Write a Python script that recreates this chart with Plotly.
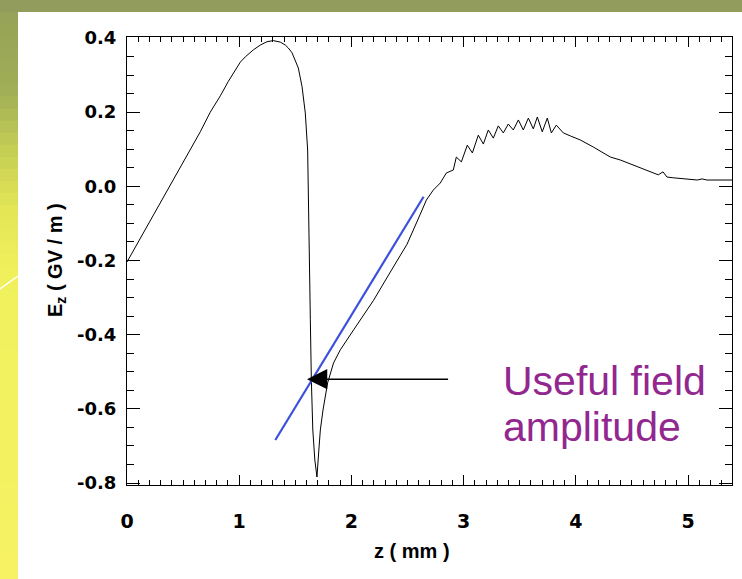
import plotly.graph_objects as go

# ---- data ----
z_mm = [0.000, 0.208, 0.430, 0.564, 0.653, 0.742, 0.832, 0.903, 0.980, 1.010,
        1.054, 1.126, 1.188, 1.248,
        1.304, 1.366, 1.411, 1.438, 1.471, 1.500, 1.527, 1.560, 1.589, 1.610,
        1.619, 1.625, 1.634, 1.643, 1.656, 1.674, 1.693, 1.708, 1.723, 1.747,
        1.788, 1.841, 1.901, 2.020, 2.198, 2.347, 2.496, 2.614, 2.668, 2.730,
        2.792, 2.846, 2.908, 2.935, 2.980, 3.033, 3.078, 3.131, 3.176, 3.220,
        3.265, 3.309, 3.354, 3.398, 3.443, 3.488, 3.532, 3.577, 3.621, 3.657,
        3.701, 3.746, 3.782, 3.826, 3.889, 3.951, 4.040, 4.156, 4.308, 4.397,
        4.486, 4.575, 4.664, 4.735, 4.777, 4.813, 4.869, 4.958, 5.083, 5.125,
        5.169, 5.392]
ez_gv_m = [-0.204, -0.091, 0.028, 0.101, 0.147, 0.200, 0.244, 0.283, 0.322, 0.335,
           0.349, 0.368, 0.381, 0.390,
           0.393, 0.389, 0.381, 0.373, 0.360, 0.341, 0.319, 0.269, 0.198, 0.098,
           -0.037, -0.172, -0.360, -0.522, -0.657, -0.738, -0.784, -0.719, -0.657, -0.603,
           -0.530, -0.476, -0.441, -0.387, -0.307, -0.231, -0.156, -0.075, -0.037, -0.010,
           0.009, 0.036, 0.044, 0.079, 0.066, 0.111, 0.090, 0.138, 0.114, 0.152,
           0.130, 0.163, 0.144, 0.168, 0.152, 0.179, 0.152, 0.184, 0.155, 0.187,
           0.147, 0.184, 0.144, 0.165, 0.144, 0.136, 0.125, 0.106, 0.079, 0.071,
           0.060, 0.049, 0.039, 0.031, 0.039, 0.025, 0.023, 0.020, 0.017, 0.020,
           0.017, 0.017]

fit_z = [1.322, 2.643]
fit_ez = [-0.684, -0.028]

arrow_tip = (1.604, -0.520)
arrow_tail_z = 2.875

x_ticks = [0, 1, 2, 3, 4, 5]
y_ticks = [-0.8, -0.6, -0.4, -0.2, 0.0, 0.2, 0.4]
y_ticktext = ["-0.8", "-0.6", "-0.4", "-0.2", "0.0", "0.2", "0.4"]

label_lines = ["Useful field", "amplitude"]

# ---- layout geometry ----
W, H = 742, 579
ML, MR, MT, MB = 127, 10, 37, 94
PW, PH = W - ML - MR, H - MT - MB


def px(xp):
    return (xp - ML) / PW


def py(yp):
    return 1 - (yp - MT) / PH


FONT = "Liberation Sans, Arial, sans-serif"
TICKFONT = "DejaVu Sans, Liberation Sans, sans-serif"

fig = go.Figure()
fig.add_trace(go.Scatter(x=z_mm, y=ez_gv_m, mode="lines",
                         line=dict(color="black", width=1), showlegend=False,
                         hoverinfo="skip"))
fig.add_trace(go.Scatter(x=fit_z, y=fit_ez, mode="lines",
                         line=dict(color="#3c50dc", width=2.2), showlegend=False,
                         hoverinfo="skip"))

# background slide strips (vertical gradient on the left, olive band on top)
shapes = []
stops = [(0, (148, 160, 88)), (90, (160, 174, 86)), (150, (196, 206, 84)),
         (210, (228, 230, 86)), (270, (240, 240, 92)), (579, (246, 242, 100))]
nb = 48
for i in range(nb):
    y0 = i * H / nb
    y1 = (i + 1) * H / nb + 1
    ym = (y0 + y1) / 2
    for (a, ca), (b, cb) in zip(stops[:-1], stops[1:]):
        if a <= ym <= b:
            t = (ym - a) / (b - a)
            c = tuple(int(round(ca[k] + t * (cb[k] - ca[k]))) for k in range(3))
            break
    else:
        c = stops[-1][1]
    shapes.append(dict(type="rect", xref="paper", yref="paper",
                       x0=px(0), x1=px(18), y0=py(y1), y1=py(y0),
                       fillcolor="rgb(%d,%d,%d)" % c, line=dict(width=0),
                       layer="below"))
shapes.append(dict(type="rect", xref="paper", yref="paper",
                   x0=px(0), x1=px(W), y0=py(12), y1=py(0),
                   fillcolor="rgb(146,156,92)", line=dict(width=0), layer="below"))
shapes.append(dict(type="line", xref="paper", yref="paper",
                   x0=px(0), y0=py(289), x1=px(18), y1=py(276),
                   line=dict(color="white", width=1.5), layer="below"))

annotations = [
    dict(x=arrow_tip[0], y=arrow_tip[1], ax=arrow_tail_z, ay=arrow_tip[1],
         xref="x", yref="y", axref="x", ayref="y", text="", showarrow=True,
         arrowhead=2, arrowsize=2.7, arrowwidth=1.5, arrowcolor="black",
         standoff=0),
    dict(x=px(501), y=py(381), xref="paper", yref="paper", text=label_lines[0],
         showarrow=False, xanchor="left", yanchor="middle",
         font=dict(family=FONT, size=41, color="#92278f")),
    dict(x=px(501), y=py(427), xref="paper", yref="paper", text=label_lines[1],
         showarrow=False, xanchor="left", yanchor="middle",
         font=dict(family=FONT, size=41, color="#92278f")),
    dict(x=px(412), y=py(551), xref="paper", yref="paper", text="z ( mm )",
         showarrow=False, xanchor="center", yanchor="middle",
         font=dict(family=FONT, size=20, color="black", weight="bold")),
    dict(x=px(56), y=py(260), xref="paper", yref="paper",
         text="E<sub>z</sub> ( GV / m )", textangle=-90,
         showarrow=False, xanchor="center", yanchor="middle",
         font=dict(family=FONT, size=20, color="black", weight="bold")),
]

fig.update_layout(
    width=W, height=H,
    margin=dict(l=ML, r=MR, t=MT, b=MB, pad=0),
    paper_bgcolor="white", plot_bgcolor="white",
    shapes=shapes, annotations=annotations,
    xaxis=dict(range=[0, 5.392], tickvals=x_ticks,
               ticks="inside", ticklen=10, tickwidth=1, tickcolor="black",
               showline=True, linecolor="black", linewidth=1, mirror="ticks",
               showgrid=False, zeroline=False, ticklabelstandoff=19,
               tickfont=dict(family=TICKFONT, size=19, color="black", weight="bold"),
               minor=dict(ticks="inside", ticklen=5, dtick=0.1, tick0=0,
                          tickcolor="black", showgrid=False)),
    yaxis=dict(range=[-0.8054, 0.4027], tickvals=y_ticks, ticktext=y_ticktext,
               ticks="inside", ticklen=13, tickwidth=1, tickcolor="black",
               showline=True, linecolor="black", linewidth=1, mirror="ticks",
               showgrid=False, zeroline=False, ticklabelstandoff=6,
               tickfont=dict(family=TICKFONT, size=18, color="black", weight="bold"),
               minor=dict(ticks="inside", ticklen=7, dtick=0.05, tick0=0,
                          tickcolor="black", showgrid=False)),
)

fig.write_html("out.html")
